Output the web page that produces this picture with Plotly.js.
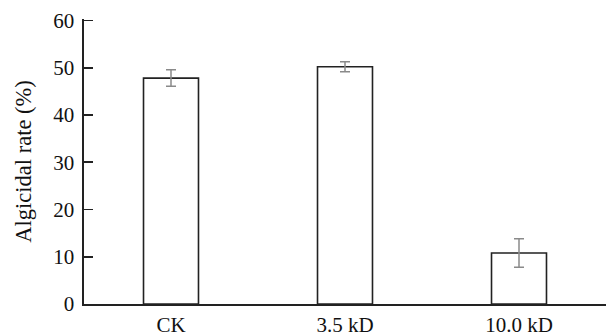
<!DOCTYPE html>
<html>
<head>
<meta charset="utf-8">
<script src="https://cdn.plot.ly/plotly-3.0.1.min.js"></script>
<style>html,body{margin:0;padding:0;background:#fff;}#chart{width:606px;height:336px;}</style>
</head>
<body>
<div id="chart"></div>
<script>
var categories = ["CK", "3.5 kD", "10.0 kD"];
var algicidalRate = [47.8, 50.2, 10.8];
var errorValues = [1.75, 1.05, 3.0];
var yTickValues = [0, 10, 20, 30, 40, 50, 60];

var trace = {
  type: 'bar',
  x: categories,
  y: algicidalRate,
  marker: {color: '#ffffff', line: {color: '#222222', width: 1.6}},
  error_y: {type: 'data', array: errorValues, visible: true, color: '#8a8a8a', thickness: 1.5, width: 5},
  hoverinfo: 'none'
};

var layout = {
  width: 606, height: 336,
  margin: {l: 84, r: 0, t: 19, b: 32},
  paper_bgcolor: '#ffffff', plot_bgcolor: '#ffffff',
  bargap: 0.684,
  showlegend: false,
  font: {family: 'Liberation Serif, serif', color: '#111111', size: 21},
  xaxis: {
    type: 'category',
    range: [-0.5, 2.5],
    showline: true, linecolor: '#222222', linewidth: 1.6,
    ticks: '', showgrid: false, zeroline: false,
    tickfont: {size: 21},
    ticklabelstandoff: 1
  },
  yaxis: {
    range: [0, 60.3],
    tickmode: 'array',
    tickvals: yTickValues,
    ticks: 'inside', ticklen: 9, tickwidth: 1.8, tickcolor: '#222222',
    showline: true, linecolor: '#222222', linewidth: 1.6,
    showgrid: false, zeroline: false,
    tickfont: {size: 21},
    ticklabelstandoff: 4,
    title: {text: 'Algicidal rate (%)', font: {size: 22.5}, standoff: 15}
  }
};

Plotly.newPlot('chart', [trace], layout, {staticPlot: true, displayModeBar: false});
</script>
</body>
</html>
